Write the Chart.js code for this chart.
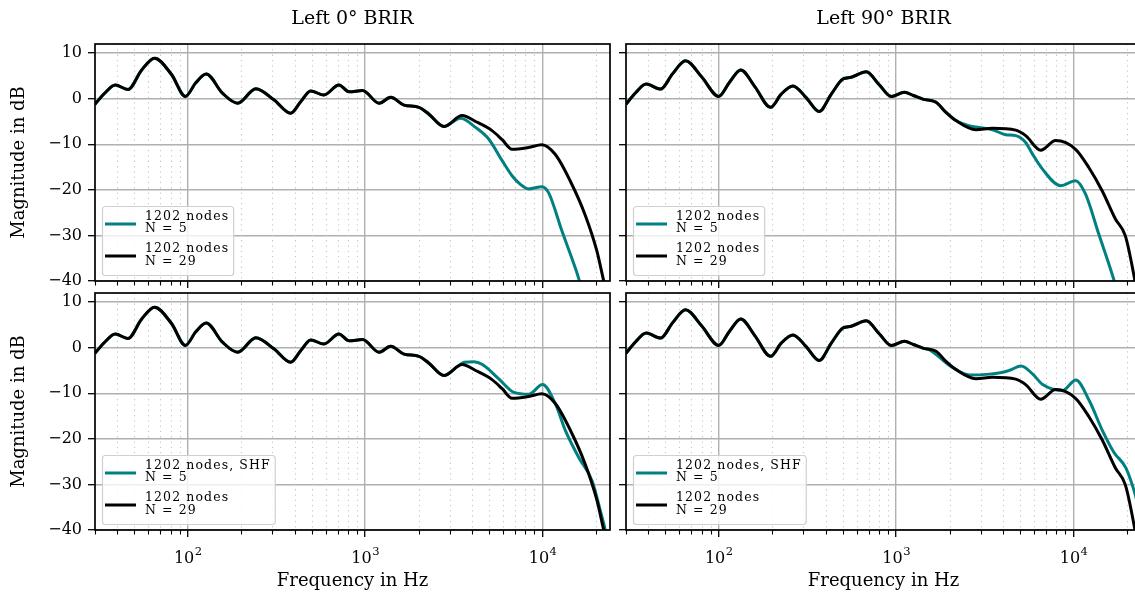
<!DOCTYPE html>
<html><head><meta charset="utf-8">
<script src="https://cdn.jsdelivr.net/npm/chart.js@4.4.1/dist/chart.umd.min.js"></script>
<style>
html,body{margin:0;padding:0;background:#fff;overflow:hidden;width:1135px;height:595px;}
.c{position:absolute;left:0;top:0;width:1150px;height:595px;}
</style></head><body>
<div class="c"><canvas id="tl" width="1150" height="595"></canvas></div>
<div class="c"><canvas id="tr" width="1150" height="595"></canvas></div>
<div class="c"><canvas id="bl" width="1150" height="595"></canvas></div>
<div class="c"><canvas id="br" width="1150" height="595"></canvas></div>
<script>
// ---------------- data ----------------
const titles = ["Left 0\u00B0 BRIR", "Left 90\u00B0 BRIR"];
const yLabel = "Magnitude in dB";
const xLabel = "Frequency in Hz";
const yTicks = [-40, -30, -20, -10, 0, 10];
const xMajorTicks = [100, 1000, 10000];
const xMinorTicks = [30,40,50,60,70,80,90,200,300,400,500,600,700,800,900,2000,3000,4000,5000,6000,7000,8000,9000,20000];

// Left 0°, 1202 nodes N = 29
const freqL0_N29 = [30,34,39,46,55,65,81,97,111,127,157,191,242,307,380,434,493,586,711,813,966,1200,1393,1656,2010,2290,2780,3524,4190,5190,5920,6730,8340,9910,11780,14300,17380,20200,22000,24000];
const magL0_N29  = [-1.2,1.2,3.0,2.0,6.3,8.9,5.3,0.5,3.5,5.4,1.2,-1.0,2.2,-0.3,-3.2,-0.6,1.7,0.8,3.0,1.5,1.8,-1.0,0.3,-1.4,-1.9,-3.4,-6.1,-3.7,-5.0,-7.0,-9.0,-11.1,-10.7,-10.1,-12.2,-18.0,-25.5,-33.3,-39.6,-46];
// Left 0°, 1202 nodes N = 5
const freqL0_N5 = [30,34,39,46,55,65,81,97,111,127,157,191,242,307,380,434,493,586,711,813,966,1200,1393,1656,2010,2290,2780,3450,4190,4980,5920,6730,7500,8340,9910,10810,12850,15920,17800];
const magL0_N5  = [-1.2,1.2,3.0,2.0,6.3,8.9,5.3,0.5,3.5,5.4,1.2,-1.0,2.2,-0.3,-3.2,-0.6,1.7,0.8,3.0,1.5,1.8,-1.0,0.3,-1.4,-1.9,-3.4,-6.1,-4.3,-6.3,-8.9,-13.6,-16.9,-18.8,-19.8,-19.3,-20.6,-29.0,-39.2,-46];
// Left 0°, 1202 nodes, SHF N = 5
const freqL0_SHF = [30,34,39,46,55,65,81,97,111,127,157,191,242,307,380,434,493,586,711,813,966,1200,1393,1656,2010,2290,2780,3300,3610,4100,4580,5690,6900,8380,10000,11830,13460,16000,19010,21180,22590,24000];
const magL0_SHF  = [-1.2,1.2,3.0,2.0,6.3,8.9,5.3,0.5,3.5,5.4,1.2,-1.0,2.2,-0.3,-3.2,-0.6,1.7,0.8,3.0,1.5,1.8,-1.0,0.3,-1.4,-1.9,-3.4,-6.1,-4.2,-3.2,-3.1,-3.7,-6.9,-9.8,-10.2,-8.1,-12.4,-18.2,-24.1,-29.2,-35.8,-40.1,-46];

// Left 90°, 1202 nodes N = 29
const freqL90_N29 = [30,34,39,47,55,65,80,100,115,133,160,196,225,262,310,368,431,501,558,678,805,938,1114,1250,1413,1679,1910,2173,2812,3491,4721,5370,6531,7925,10260,12190,14490,17220,19590,21830,24000];
const magL90_N29  = [-1.2,1.3,3.2,2.1,5.5,8.3,4.8,0.5,3.6,6.3,2.6,-1.9,1.0,2.8,0.3,-2.8,1.0,4.3,4.7,5.9,3.0,0.5,1.4,0.7,-0.1,-0.8,-3.0,-4.8,-6.8,-6.5,-6.9,-8.1,-11.3,-9.2,-11.1,-15.1,-20.2,-26.4,-30.1,-38.5,-48];
// Left 90°, 1202 nodes N = 5
const freqL90_N5 = [30,34,39,47,55,65,80,100,115,133,160,196,225,262,310,368,431,501,558,678,805,938,1114,1250,1413,1679,1910,2173,2600,2938,3491,4150,4721,5370,5860,6668,8453,10260,11670,13870,16830,18600];
const magL90_N5  = [-1.2,1.3,3.2,2.1,5.5,8.3,4.8,0.5,3.6,6.3,2.6,-1.9,1.0,2.8,0.3,-2.8,1.0,4.3,4.7,5.9,3.0,0.5,1.4,0.7,-0.1,-0.8,-3.0,-4.8,-6.0,-6.3,-6.8,-7.9,-8.1,-9.6,-12.1,-15.4,-19.1,-18.0,-20.9,-29.7,-39.6,-46];
// Left 90°, 1202 nodes, SHF N = 5
const freqL90_SHF = [30,34,39,47,55,65,80,100,115,133,160,196,225,262,310,368,431,501,558,678,805,938,1114,1250,1413,1545,2000,2594,3357,3990,4400,5058,5890,6699,8670,10300,12250,14550,16900,19680,21630,24000];
const magL90_SHF  = [-1.2,1.3,3.2,2.1,5.5,8.3,4.8,0.5,3.6,6.3,2.6,-1.9,1.0,2.8,0.3,-2.8,1.0,4.3,4.7,5.9,3.0,0.5,1.4,0.7,-0.1,-0.5,-3.9,-6.0,-5.8,-5.4,-4.9,-4.0,-5.8,-8.1,-9.4,-7.1,-11.6,-18.2,-23.0,-26.3,-30.6,-37];

const legendLabelsTop = ["1202 nodes", "1202 nodes"];
const legendLabelsBottom = ["1202 nodes, SHF", "1202 nodes"];
const legendOrders = ["N = 5", "N = 29"];

// ---------------- styling / layout ----------------
const TEAL = "#008080";
const FONT = '"DejaVu Serif", serif';
const CW = 1150, CH = 595, YW = 60, XH = 60;
const GRID = "#b0b0b0";

function xy(f, m) { return f.map((v, i) => ({ x: v, y: m[i] })); }
function fmtY(v) { return v < 0 ? "\u2212" + Math.abs(v) : String(v); }

const panels = [
  { id: "tl", L: 95,  R: 610,  T: 44,  B: 281, col: 0, row: 0,
    teal: [freqL0_N5, magL0_N5], black: [freqL0_N29, magL0_N29], leg: legendLabelsTop },
  { id: "tr", L: 626, R: 1141, T: 44,  B: 281, col: 1, row: 0,
    teal: [freqL90_N5, magL90_N5], black: [freqL90_N29, magL90_N29], leg: legendLabelsTop },
  { id: "bl", L: 95,  R: 610,  T: 293, B: 530, col: 0, row: 1,
    teal: [freqL0_SHF, magL0_SHF], black: [freqL0_N29, magL0_N29], leg: legendLabelsBottom },
  { id: "br", L: 626, R: 1141, T: 293, B: 530, col: 1, row: 1,
    teal: [freqL90_SHF, magL90_SHF], black: [freqL90_N29, magL90_N29], leg: legendLabelsBottom }
];

function spacedText(ctx, text, x, y, ls) {
  if ("letterSpacing" in ctx) {
    ctx.letterSpacing = ls + "px";
    ctx.fillText(text, x, y);
    ctx.letterSpacing = "0px";
  } else {
    let cx = x;
    for (const ch of text) { ctx.fillText(ch, cx, y); cx += ctx.measureText(ch).width + ls; }
  }
}
function spacedWidth(ctx, text, ls) {
  let w = 0;
  for (const ch of text) w += ctx.measureText(ch).width + ls;
  return w;
}

function decoPlugin(p) {
  return {
    id: "deco_" + p.id,
    beforeDatasetsDraw(chart) {
      const ctx = chart.ctx, a = chart.chartArea, xs = chart.scales.x;
      ctx.save();
      // minor dotted vertical grid
      ctx.strokeStyle = "#c8c8c8";
      ctx.lineWidth = 1.1;
      ctx.setLineDash([1.3, 4]);
      for (const v of xMinorTicks) {
        const px = Math.round(xs.getPixelForValue(v)) + 0.5;
        if (px <= a.left + 1 || px >= a.right - 1) continue;
        ctx.beginPath(); ctx.moveTo(px, a.top); ctx.lineTo(px, a.bottom); ctx.stroke();
      }
      ctx.setLineDash([]);
      // minor ticks
      ctx.strokeStyle = "#000";
      ctx.lineWidth = 1.1;
      for (const v of xMinorTicks) {
        const px = Math.round(xs.getPixelForValue(v)) + 0.5;
        ctx.beginPath(); ctx.moveTo(px, a.bottom); ctx.lineTo(px, a.bottom + 4.5); ctx.stroke();
      }
      ctx.restore();
    },
    afterDatasetsDraw(chart) {
      const ctx = chart.ctx, a = chart.chartArea;
      ctx.save();
      // frame
      ctx.strokeStyle = "#000";
      ctx.lineWidth = 1.7;
      ctx.strokeRect(a.left, a.top, a.right - a.left, a.bottom - a.top);
      // legend
      ctx.font = "12.5px " + FONT;
      const ls = 1.1;
      const rows = [[p.leg[0], legendOrders[0]], [p.leg[1], legendOrders[1]]];
      let tw = 0;
      for (const r of rows) for (const t of r) tw = Math.max(tw, spacedWidth(ctx, t, ls));
      const bx = a.left + 7, bh = 69, by = a.bottom - 6 - bh;
      const bw = 43 + tw + 4;
      ctx.beginPath();
      ctx.roundRect(bx + 0.5, by + 0.5, bw, bh, 3);
      ctx.fillStyle = "rgba(255,255,255,0.8)";
      ctx.fill();
      ctx.strokeStyle = "#d0d0d0";
      ctx.lineWidth = 1.2;
      ctx.stroke();
      const colors = [TEAL, "#000"];
      const lineY = [18, 50], textY = [[11, 23], [43, 56]];
      for (let i = 0; i < 2; i++) {
        ctx.strokeStyle = colors[i];
        ctx.lineWidth = 3;
        ctx.beginPath(); ctx.moveTo(bx + 3, by + lineY[i]); ctx.lineTo(bx + 34, by + lineY[i]); ctx.stroke();
        ctx.fillStyle = "#000";
        ctx.textAlign = "left"; ctx.textBaseline = "middle";
        spacedText(ctx, rows[i][0], bx + 43, by + textY[i][0], ls);
        spacedText(ctx, rows[i][1], bx + 43, by + textY[i][1], ls);
      }
      ctx.restore();
    },
    afterDraw(chart) {
      const ctx = chart.ctx, a = chart.chartArea, xs = chart.scales.x;
      ctx.save();
      ctx.fillStyle = "#000";
      ctx.textAlign = "center"; ctx.textBaseline = "middle";
      if (p.row === 0) {
        ctx.font = "19px " + FONT;
        ctx.fillText(titles[p.col], (a.left + a.right) / 2, 19);
      }
      if (p.col === 0) {
        ctx.save();
        ctx.font = "18px " + FONT;
        ctx.translate(19, (a.top + a.bottom) / 2);
        ctx.rotate(-Math.PI / 2);
        ctx.fillText(yLabel, 0, 0);
        ctx.restore();
      }
      if (p.row === 1) {
        ctx.font = "18px " + FONT;
        ctx.fillText(xLabel, (a.left + a.right) / 2, 581);
        // x tick labels 10^n
        for (const v of xMajorTicks) {
          const px = xs.getPixelForValue(v);
          const ex = String(Math.round(Math.log10(v)));
          ctx.font = "16px " + FONT;
          const wb = ctx.measureText("10").width;
          ctx.font = "11.5px " + FONT;
          const we = ctx.measureText(ex).width;
          const x0 = px - (wb + we) / 2;
          ctx.textAlign = "left"; ctx.textBaseline = "alphabetic";
          ctx.font = "16px " + FONT;
          ctx.fillText("10", x0, 563);
          ctx.font = "11.5px " + FONT;
          ctx.fillText(ex, x0 + wb + 0.5, 555);
        }
      }
      ctx.restore();
    }
  };
}

function makeChart(p) {
  const lineBase = { pointRadius: 0, borderWidth: 3, cubicInterpolationMode: "monotone", clip: 0, fill: false };
  new Chart(document.getElementById(p.id), {
    type: "line",
    data: {
      datasets: [
        Object.assign({ label: "N = 5", data: xy(p.teal[0], p.teal[1]), borderColor: TEAL, order: 2 }, lineBase),
        Object.assign({ label: "N = 29", data: xy(p.black[0], p.black[1]), borderColor: "#000", order: 1 }, lineBase)
      ]
    },
    options: {
      responsive: false, animation: false, events: [],
      layout: { padding: { left: p.L - YW, top: p.T, right: CW - p.R, bottom: CH - p.B - XH } },
      plugins: { legend: { display: false }, tooltip: { enabled: false }, title: { display: false } },
      scales: {
        x: {
          type: "logarithmic", min: 30, max: 24000,
          afterFit: s => { s.height = XH; },
          afterBuildTicks: s => { s.ticks = xMajorTicks.map(v => ({ value: v })); },
          ticks: { display: false },
          grid: { color: GRID, lineWidth: 1.4, tickLength: 7, tickColor: "#000", tickWidth: 1.3 },
          border: { display: false }
        },
        y: {
          type: "linear", min: -40, max: 12,
          afterFit: s => { s.width = YW; },
          afterBuildTicks: s => { s.ticks = yTicks.map(v => ({ value: v })); },
          ticks: { display: p.col === 0, callback: v => fmtY(v), color: "#000", padding: 6,
                   font: { family: "DejaVu Serif", size: 16 } },
          grid: { color: GRID, lineWidth: 1.4, tickLength: 7, tickColor: "#000", tickWidth: 1.3 },
          border: { display: false }
        }
      }
    },
    plugins: [decoPlugin(p)]
  });
}
panels.forEach(makeChart);
</script>
</body></html>
